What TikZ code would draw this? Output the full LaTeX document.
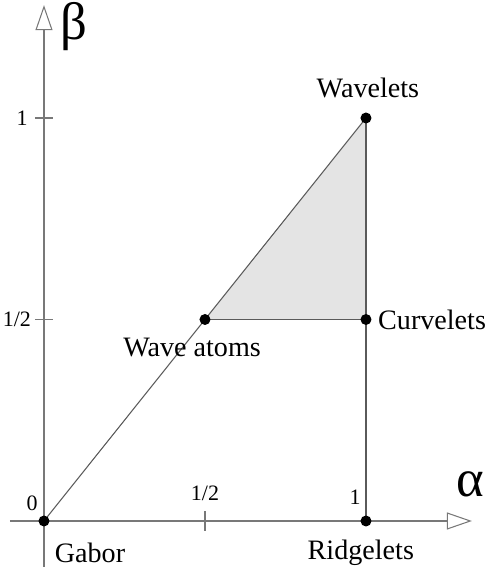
\documentclass[tikz,border=0pt]{standalone}
\usepackage{fontspec}
\setmainfont{Liberation Serif}
\usetikzlibrary{arrows.meta,positioning}
\definecolor{axisgray}{RGB}{120,120,120}
\definecolor{edgegray}{RGB}{90,90,90}
\definecolor{regionfill}{RGB}{228,228,228}

\begin{document}
\begin{tikzpicture}[x=6.44cm,y=8.06cm,
    axis/.style={axisgray,line width=0.6pt,-{Triangle[open,length=0.5cm,width=0.34cm]}},
    edge/.style={edgegray,line width=0.6pt},
    dot/.style={circle,fill=black,inner sep=0pt,minimum size=0.22cm},
    lbl/.style={font=\fontsize{16}{19}\selectfont},
    num/.style={font=\fontsize{12.5}{15}\selectfont},
    greek/.style={font=\fontsize{30}{34}\selectfont}]
  \useasboundingbox (-0.1366,-0.1489) rectangle (1.385,1.2928);
  % corners of the region
  \coordinate (G) at (0,0);
  \coordinate (R) at (1,0);
  \coordinate (A) at (0.5,0.5);
  \coordinate (C) at (1,0.5);
  \coordinate (W) at (1,1);
  \fill[regionfill] (A) -- (W) -- (C) -- cycle;
  % axes
  \draw[axis] (-0.106,0) -- (1.329,0);
  \draw[axis] (0,-0.114) -- (0,1.280);
  \node[greek] (alpha) at (1.323,0.092) {α};
  \node[greek] (beta) at (0.093,1.226) {β};
  % ticks
  \draw[axisgray,line width=0.6pt] (0.5,0) ++(0,-0.2cm) -- ++(0,0.4cm);
  \foreach \y in {0.5,1}
    \draw[axisgray,line width=0.6pt] (0,\y) ++(-0.18cm,0) -- ++(0.36cm,0);
  \node[num] (x0) at (-0.037,0.045) {0};
  \node[num] (xhalf) at (0.5,0.069) {1/2};
  \node[num] (xone) at (0.966,0.060) {1};
  \node[num] (yhalf) at (-0.084,0.5) {1/2};
  \node[num] (yone) at (-0.068,1) {1};
  % edges
  \draw[edge] (G) -- (A) -- (W);
  \draw[edge] (A) -- (C);
  \draw[edge] (R) -- (C) -- (W);
  % points
  \foreach \p in {G,R,A,C,W}
    \node[dot] (\p dot) at (\p) {};
  \node[lbl] (gabor) at (0.143,-0.079) {Gabor};
  \node[lbl] (ridge) at (0.984,-0.079) {Ridgelets};
  \node[lbl] (watoms) at (0.46,0.43) {Wave atoms};
  \node[lbl,anchor=west] (curve) at ([xshift=0.12cm]C) {Curvelets};
  \node[lbl] (wave) at (1.006,1.074) {Wavelets};
\end{tikzpicture}
\end{document}
